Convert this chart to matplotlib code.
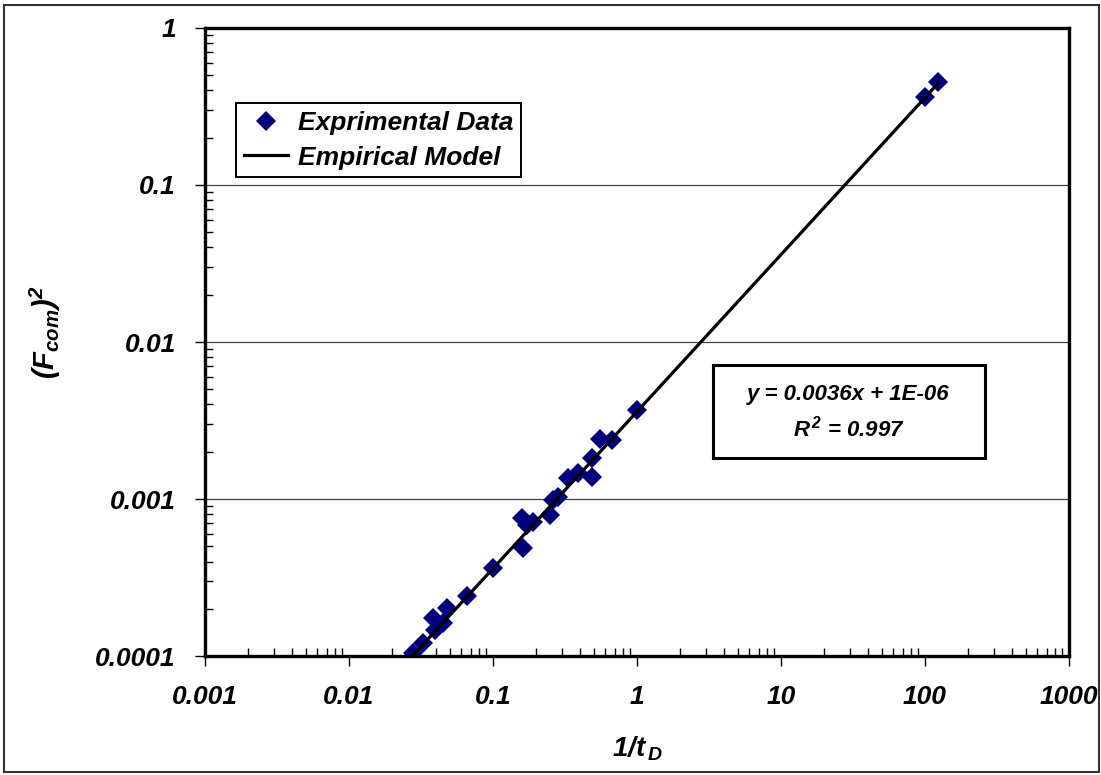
import matplotlib
matplotlib.use("Agg")
import matplotlib.pyplot as plt
from matplotlib.patches import Rectangle
from matplotlib.ticker import LogLocator, FixedLocator, NullFormatter

plt.rcParams['font.family'] = ['Liberation Sans', 'DejaVu Sans']
plt.rcParams['mathtext.fontset'] = 'custom'
plt.rcParams['mathtext.rm'] = 'Liberation Sans:bold:italic'
plt.rcParams['mathtext.it'] = 'Liberation Sans:bold:italic'
plt.rcParams['mathtext.bf'] = 'Liberation Sans:bold:italic'

inv_td = [0.0278, 0.0327, 0.0383, 0.0396, 0.045, 0.048, 0.066, 0.100,
          0.1616, 0.159, 0.172, 0.19, 0.249, 0.261, 0.283, 0.332, 0.389,
          0.487, 0.487, 0.553, 0.67, 1.0, 100.0, 123.0]
fcom_sq = [1.04e-4, 1.21e-4, 1.75e-4, 1.47e-4, 1.62e-4, 2.02e-4, 2.41e-4, 3.64e-4,
           4.89e-4, 7.6e-4, 6.85e-4, 7.16e-4, 7.94e-4, 9.9e-4, 1.03e-3, 1.37e-3, 1.47e-3,
           1.39e-3, 1.83e-3, 2.42e-3, 2.39e-3, 3.71e-3, 0.363, 0.453]

# empirical model from the fit annotation
slope = 0.0036
intercept = 1e-6
model_x = [0.0275, 0.1, 1.0, 10.0, 125.0]

x_ticks = [0.001, 0.01, 0.1, 1, 10, 100, 1000]
x_labels = ['0.001', '0.01', '0.1', '1', '10', '100', '1000']
y_ticks = [0.0001, 0.001, 0.01, 0.1, 1]
y_labels = ['0.0001', '0.001', '0.01', '0.1', '1']

fig = plt.figure(figsize=(11.01, 7.75), dpi=100)
ax = fig.add_axes([0.1862, 0.1535, 0.9709 - 0.1862, 0.9639 - 0.1535])

model_y = [slope * v + intercept for v in model_x]
ax.plot(model_x, model_y, color='black', lw=2.3, zorder=3, label='Empirical Model')
ax.plot(inv_td, fcom_sq, linestyle='none', marker='D', ms=10, color='#000080',
        markeredgewidth=0, zorder=2, label='Exprimental Data')

ax.set_xscale('log')
ax.set_yscale('log')
ax.set_xlim(0.001, 1000)
ax.set_ylim(0.0001, 1)

ax.xaxis.set_major_locator(FixedLocator(x_ticks))
ax.set_xticklabels(x_labels)
ax.yaxis.set_major_locator(FixedLocator(y_ticks))
ax.set_yticklabels(y_labels)
ax.xaxis.set_minor_locator(LogLocator(base=10, subs=range(2, 10), numticks=20))
ax.yaxis.set_minor_locator(LogLocator(base=10, subs=range(2, 10), numticks=20))
ax.xaxis.set_minor_formatter(NullFormatter())
ax.yaxis.set_minor_formatter(NullFormatter())

ax.tick_params(which='major', direction='out', length=7, width=1)
ax.tick_params(which='minor', direction='in', length=6, width=1)
ax.tick_params(axis='x', which='major', pad=14)
ax.tick_params(axis='y', which='major', pad=14)
for lab in ax.get_xticklabels() + ax.get_yticklabels():
    lab.set_fontsize(19)
    lab.set_fontweight('bold')
    lab.set_fontstyle('italic')

for sp in ax.spines.values():
    sp.set_linewidth(2.4)

ax.grid(True, which='major', axis='y', color='#404040', lw=0.9)
ax.set_axisbelow(True)

ax.set_xlabel(r'$1/t_{\,D}$', fontsize=20, labelpad=18)
ax.set_ylabel(r'$(F_{com})^{2}$', fontsize=21)
ax.yaxis.set_label_coords(-0.164, 0.515)

handles, labels = ax.get_legend_handles_labels()
leg = ax.legend(handles[::-1], labels[::-1], loc='lower left',
                bbox_to_anchor=(0.036, 0.762), prop={'size': 19, 'weight': 'bold', 'style': 'italic'},
                fancybox=False, edgecolor='black', framealpha=1, borderpad=0.3,
                handlelength=1.65, handletextpad=0.4, labelspacing=0.4, borderaxespad=0)
leg.get_frame().set_linewidth(1.4)

# fit annotation box
ax.add_patch(Rectangle((0.588, 0.316), 0.315, 0.148, transform=ax.transAxes,
                       facecolor='white', edgecolor='black', lw=2.2, zorder=4))
ax.text(0.745, 0.416, 'y = 0.0036x + 1E-06', transform=ax.transAxes,
        ha='center', va='center', fontsize=16, fontweight='bold', fontstyle='italic', zorder=5)
ax.text(0.745, 0.362, r'R$^{\,2}$ = 0.997', transform=ax.transAxes,
        ha='center', va='center', fontsize=16, fontweight='bold', fontstyle='italic', zorder=5)

fig.patches.append(Rectangle((0.004, 0.004), 0.994, 0.99, transform=fig.transFigure,
                             fill=False, edgecolor='#333333', lw=1.5))

fig.savefig('out.png', dpi=100)
